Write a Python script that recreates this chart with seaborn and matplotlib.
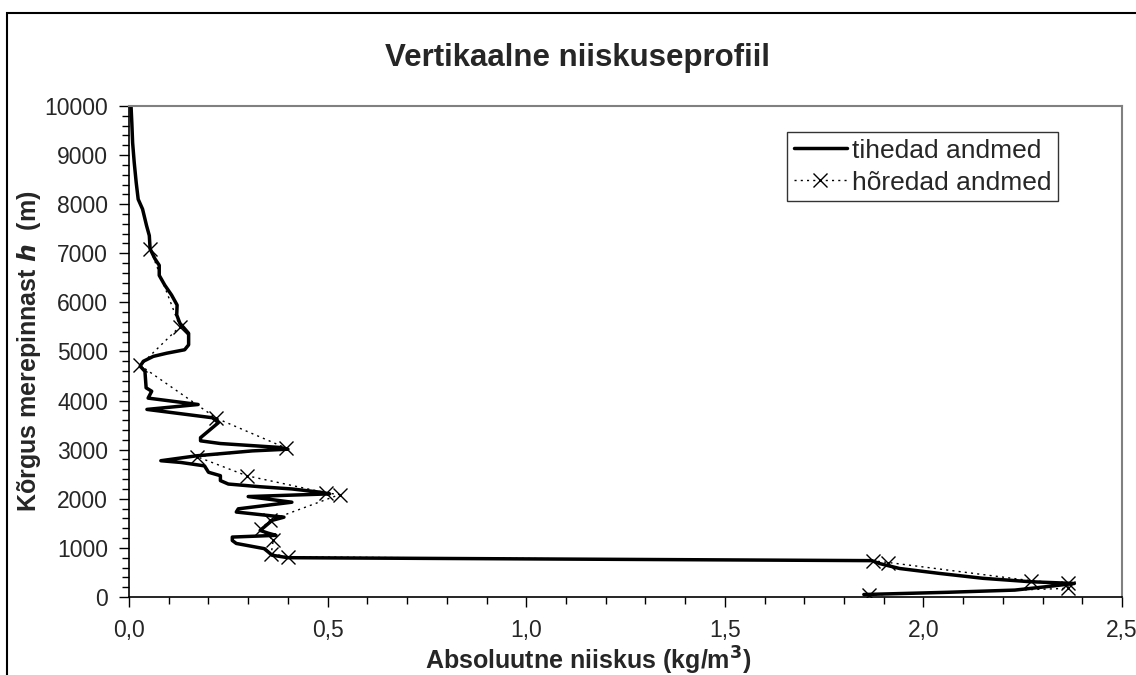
import matplotlib
matplotlib.use("Agg")
import matplotlib.pyplot as plt
from matplotlib.patches import Rectangle
from matplotlib.ticker import MultipleLocator, FuncFormatter
import seaborn as sns

# dense profile (tihedad andmed), from ground up
dense_x = [1.85, 2.06, 2.23, 2.31, 2.38, 2.27, 2.15, 2.04, 1.94, 1.89, 1.87,
           0.40, 0.36, 0.35, 0.34, 0.31, 0.27, 0.26, 0.26, 0.37, 0.35, 0.33,
           0.35, 0.36, 0.39, 0.27, 0.275, 0.41, 0.30, 0.505, 0.48, 0.41, 0.33,
           0.25, 0.23, 0.23, 0.20, 0.19, 0.13, 0.08, 0.17, 0.31, 0.40, 0.38,
           0.23, 0.18, 0.18, 0.20, 0.225, 0.21, 0.045, 0.174, 0.048, 0.057,
           0.043, 0.04, 0.028, 0.036, 0.061, 0.095, 0.14, 0.15, 0.15, 0.128,
           0.12, 0.121, 0.107, 0.09, 0.076, 0.076, 0.065, 0.053, 0.051, 0.044,
           0.034, 0.023, 0.018, 0.013, 0.009, 0.007, 0.005]
dense_h = [50, 95, 140, 210, 275, 310, 380, 480, 580, 680, 740,
           800, 850, 920, 985, 1030, 1090, 1150, 1220, 1255, 1300, 1355,
           1490, 1560, 1625, 1730, 1795, 1930, 2045, 2100, 2135, 2200, 2245,
           2300, 2370, 2470, 2540, 2670, 2740, 2775, 2875, 2975, 3010, 3045,
           3125, 3180, 3245, 3380, 3550, 3650, 3820, 3920, 4050, 4190,
           4260, 4595, 4700, 4800, 4900, 4965, 5035, 5135, 5370, 5575,
           5745, 5945, 6150, 6350, 6550, 6755, 6890, 7090, 7360, 7565,
           7900, 8100, 8440, 8850, 9250, 9655, 10000]

# sparse profile (hõredad andmed)
sparse_x = [1.862, 2.364, 2.364, 2.272, 1.912, 1.874, 0.40, 0.358, 0.363,
            0.333, 0.354, 0.53, 0.497, 0.296, 0.170, 0.396, 0.22, 0.028,
            0.128, 0.053]
sparse_h = [40, 176, 277, 330, 702, 735, 816, 885, 1154,
            1390, 1560, 2085, 2119, 2470, 2860, 3030, 3640, 4717,
            5506, 7092]

sns.set_style("white")
plt.rcParams["font.family"] = ["Liberation Sans", "DejaVu Sans"]

fig = plt.figure(figsize=(11.36, 6.75), dpi=100)
ax = fig.add_axes([0.1136, 0.1156, 0.8741, 0.7274])

sns.lineplot(x=dense_x, y=dense_h, sort=False, estimator=None, ax=ax,
             color="black", linewidth=2.5, label="tihedad andmed")
sns.lineplot(x=sparse_x, y=sparse_h, sort=False, estimator=None, ax=ax,
             color="black", linewidth=1.0, linestyle=(0, (1.5, 3)),
             marker="x", markersize=10, markeredgewidth=1.0,
             markeredgecolor="black", label="hõredad andmed")

ax.set_xlim(0, 2.5)
ax.set_ylim(0, 10000)
ax.xaxis.set_major_locator(MultipleLocator(0.5))
ax.xaxis.set_minor_locator(MultipleLocator(0.1))
ax.yaxis.set_major_locator(MultipleLocator(1000))
ax.yaxis.set_minor_locator(MultipleLocator(200))
ax.xaxis.set_major_formatter(FuncFormatter(lambda v, p: f"{v:.1f}".replace(".", ",")))
ax.yaxis.set_major_formatter(FuncFormatter(lambda v, p: f"{int(v)}"))
ax.tick_params(axis="both", which="major", direction="out", length=7, width=1,
               color="black", labelsize=16.5, bottom=True, left=True)
ax.tick_params(axis="both", which="minor", direction="out", length=5, width=1,
               color="black", bottom=True, left=True)
ax.tick_params(axis="x", pad=9)
ax.tick_params(axis="y", pad=8)

for s in ["left", "bottom"]:
    ax.spines[s].set_color("black")
    ax.spines[s].set_linewidth(1.2)
for s in ["top", "right"]:
    ax.spines[s].set_color("#808080")
    ax.spines[s].set_linewidth(1.5)

ax.set_xlabel("Absoluutne niiskus (kg/m$^\\mathbf{3}$)", fontsize=18,
              fontweight="bold", labelpad=2, x=0.462)
ax.set_ylabel("Kõrgus merepinnast $\\boldsymbol{h}$  (m)", fontsize=18,
              fontweight="bold", labelpad=1)
ax.set_title("Vertikaalne niiskuseprofiil", fontsize=22.5, fontweight="bold",
             pad=29, x=0.452)

leg = ax.legend(loc="upper right", bbox_to_anchor=(0.9355, 0.947), fontsize=19,
                frameon=True, fancybox=False, edgecolor="black",
                handlelength=2.0, borderpad=0.25, labelspacing=0.3,
                handletextpad=0.2, borderaxespad=0)
leg.get_frame().set_linewidth(1.0)

fig.patches.append(Rectangle((7 / 1136, -0.1), 1.2, 1.1 - 13 / 675,
                             transform=fig.transFigure, fill=False,
                             edgecolor="black", linewidth=1.5))

fig.savefig("out.png", dpi=100)
